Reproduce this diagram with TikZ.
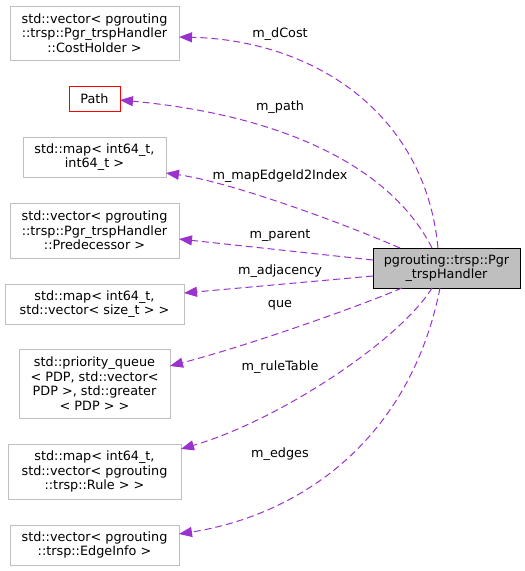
\documentclass[tikz,border=0pt]{standalone}
\usepackage{fontspec}
\setmainfont{DejaVu Sans}
\usetikzlibrary{arrows.meta}
\definecolor{edgec}{HTML}{9A32CD}
\definecolor{boxgray}{HTML}{BFBFBF}
\begin{document}
\begin{tikzpicture}[x=1pt,y=-1pt,
  box/.style={draw=boxgray, line width=1pt, inner sep=0pt, outer sep=0pt, align=center,
    font=\fontsize{12.8}{14.7}\selectfont},
  dep/.style={draw=edgec, line width=1pt, dash pattern=on 7pt off 4pt,
    -{Triangle[length=13pt,width=10pt]}},
  lab/.style={font=\fontsize{12.8}{14.7}\selectfont, inner sep=0pt}]
\useasboundingbox (0,0) rectangle (525,571);

\node[box, minimum width=169pt, minimum height=54pt] (cost) at (94.5,33)
  {std::vector< pgrouting\\::trsp::Pgr\_trspHandler\\::CostHolder >};
\node[box, draw=red, minimum width=51pt, minimum height=25pt] (path) at (94.5,98.5) {Path};
\node[box, minimum width=143pt, minimum height=40pt] (mapi) at (94.5,157)
  {std::map< int64\_t,\\ int64\_t >};
\node[box, minimum width=169pt, minimum height=55pt] (pred) at (94.5,230.5)
  {std::vector< pgrouting\\::trsp::Pgr\_trspHandler\\::Predecessor >};
\node[box, minimum width=179pt, minimum height=40pt] (adj) at (94.5,304)
  {std::map< int64\_t,\\ std::vector< size\_t > >};
\node[box, minimum width=151pt, minimum height=69pt] (pq) at (94.5,383.5)
  {std::priority\_queue\\< PDP, std::vector<\\ PDP >, std::greater\\< PDP > >};
\node[box, minimum width=173pt, minimum height=55pt] (rule) at (94.5,471.5)
  {std::map< int64\_t,\\ std::vector< pgrouting\\::trsp::Rule > >};
\node[box, minimum width=169pt, minimum height=40pt] (edge) at (94.5,545)
  {std::vector< pgrouting\\::trsp::EdgeInfo >};
\node[box, draw=black, fill=boxgray, minimum width=147pt, minimum height=40pt] (main) at (446.5,268)
  {pgrouting::trsp::Pgr\\\_trspHandler};

\draw[dep] ([xshift=65pt]main.north west) .. controls (425,110) and (310,40) .. ([yshift=-4pt]cost.east);
\draw[dep] ([xshift=59pt]main.north west) .. controls (390,165) and (280,115) .. ([yshift=-1.5pt]path.east);
\draw[dep] ([xshift=27pt]main.north west) .. controls (340,222) and (230,182) .. ([yshift=-16pt]mapi.east);
\draw[dep] ([yshift=-12pt]main.north west) -- ([yshift=-8.5pt]pred.east);
\draw[dep] ([yshift=-28pt]main.north west) -- ([yshift=11pt]adj.east);
\draw[dep] ([xshift=29pt]main.south west) .. controls (360,306) and (250,345) .. ([yshift=17.5pt]pq.east);
\draw[dep] ([xshift=59pt]main.south west) .. controls (400,340) and (280,420) .. ([yshift=22.5pt]rule.east);
\draw[dep] ([xshift=67pt]main.south west) .. controls (410,440) and (300,515) .. ([yshift=11pt]edge.east);

\node[lab] (l1) at (280,34) {m\_dCost};
\node[lab] (l2) at (280,107) {m\_path};
\node[lab] (l3) at (280,176) {m\_mapEdgeId2Index};
\node[lab] (l4) at (280,236) {m\_parent};
\node[lab] (l5) at (280,271) {m\_adjacency};
\node[lab] (l6) at (280,305) {que};
\node[lab] (l7) at (280,367) {m\_ruleTable};
\node[lab] (l8) at (280,454) {m\_edges};
\end{tikzpicture}
\end{document}
